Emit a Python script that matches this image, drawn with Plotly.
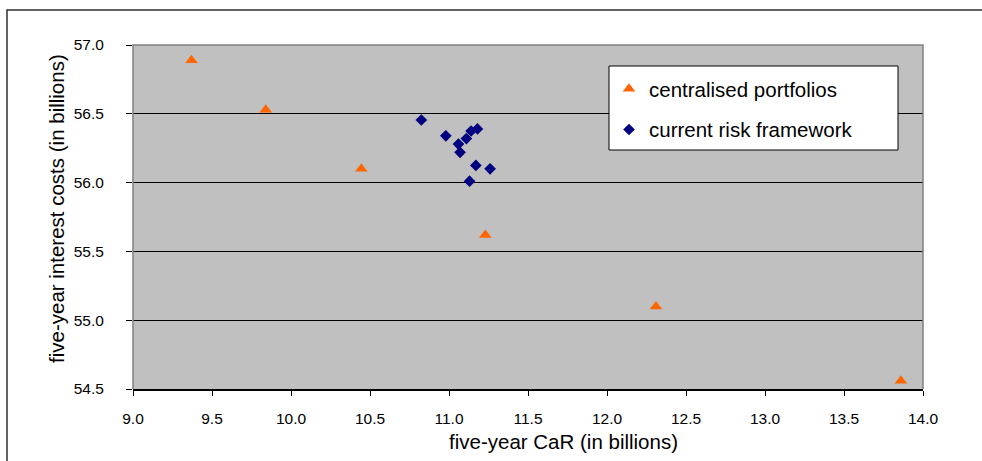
import plotly.graph_objects as go

# five-year cost-at-risk vs five-year interest costs (in billions)
central_car = [9.37, 9.84, 10.445, 11.23, 12.31, 13.86]
central_cost = [56.89, 56.53, 56.10, 55.62, 55.10, 54.56]

current_car = [10.825, 10.98, 11.14, 11.18, 11.11, 11.06, 11.07, 11.17, 11.26, 11.13]
current_cost = [56.455, 56.34, 56.375, 56.39, 56.32, 56.28, 56.22, 56.125, 56.10, 56.01]

series_names = ["centralised portfolios", "current risk framework"]
x_title = "five-year CaR (in billions)"
y_title = "five-year interest costs (in billions)"

x_ticks = [9.0, 9.5, 10.0, 10.5, 11.0, 11.5, 12.0, 12.5, 13.0, 13.5, 14.0]
y_ticks = [54.5, 55.0, 55.5, 56.0, 56.5, 57.0]

W, H = 982, 461
ML, MR, MT, MB = 133, 59, 45, 72
PW, PH = W - ML - MR, H - MT - MB


def px_x(p):
    return (p - ML) / PW


def px_y(p):
    return 1 - (p - MT) / PH


FONT = "Liberation Sans, Arial, sans-serif"

fig = go.Figure()
fig.add_trace(go.Scatter(
    x=central_car, y=central_cost, mode="markers", name=series_names[0],
    legendgroup="a",
    marker=dict(symbol="triangle-up", size=11, color="#FF6600", line=dict(width=0)),
))
fig.add_trace(go.Scatter(
    x=current_car, y=current_cost, mode="markers", name=series_names[1],
    legendgroup="b",
    marker=dict(symbol="diamond", size=9, color="#000080", line=dict(width=0)),
))

fx0, fx1 = px_x(7), px_x(1040)
fy0, fy1 = px_y(500), px_y(10)

shapes = [
    # outer chart frame: left and top edges (the rest runs off the page)
    dict(type="path", xref="paper", yref="paper",
         path=f"M {fx0},{fy0} L {fx0},{fy1} L {fx1},{fy1}",
         line=dict(color="#303030", width=1.5), layer="above"),
    # plot-area frame (left, top, right)
    dict(type="path", xref="paper", yref="paper",
         path="M 0,0 L 0,1 L 1,1 L 1,0",
         line=dict(color="#808080", width=1.5), layer="above"),
    # legend box
    dict(type="rect", xref="paper", yref="paper",
         x0=px_x(609), x1=px_x(898), y0=px_y(150), y1=px_y(66),
         line=dict(color="#000000", width=1), fillcolor="#FFFFFF", layer="above"),
]

annotations = [
    dict(text=x_title, xref="paper", yref="paper", x=px_x(563), y=px_y(441),
         xanchor="center", yanchor="middle", showarrow=False,
         font=dict(family=FONT, size=20.5, color="#000000")),
    dict(text=y_title, xref="paper", yref="paper", x=px_x(56), y=px_y(209),
         xanchor="center", yanchor="middle", showarrow=False, textangle=-90,
         font=dict(family=FONT, size=20.5, color="#000000")),
]

fig.update_layout(
    width=W, height=H,
    margin=dict(l=ML, r=MR, t=MT, b=MB, pad=0),
    paper_bgcolor="#FFFFFF", plot_bgcolor="#C0C0C0",
    font=dict(family=FONT, color="#000000"),
    showlegend=True,
    legend=dict(
        x=px_x(609), y=px_y(69), xanchor="left", yanchor="top",
        bgcolor="rgba(0,0,0,0)", borderwidth=0,
        font=dict(family=FONT, size=20.5, color="#000000"),
        traceorder="grouped", tracegroupgap=11,
    ),
    shapes=shapes,
    annotations=annotations,
    xaxis=dict(
        range=[9.0, 14.0], tickvals=x_ticks, ticktext=[f"{v:.1f}" for v in x_ticks],
        showgrid=False, zeroline=False,
        showline=True, linecolor="#000000", linewidth=1.5,
        ticks="outside", ticklen=5, tickcolor="#000000", tickwidth=1,
        tickfont=dict(family=FONT, size=15.5, color="#000000"),
        ticklabelstandoff=10,
    ),
    yaxis=dict(
        range=[54.5, 57.0], tickvals=y_ticks, ticktext=[f"{v:.1f}" for v in y_ticks],
        showgrid=True, gridcolor="#000000", gridwidth=1, zeroline=False,
        showline=False,
        ticks="outside", ticklen=6, tickcolor="#000000", tickwidth=1,
        tickfont=dict(family=FONT, size=15.5, color="#000000"),
        ticklabelstandoff=19,
    ),
)

fig.write_html("out.html")
